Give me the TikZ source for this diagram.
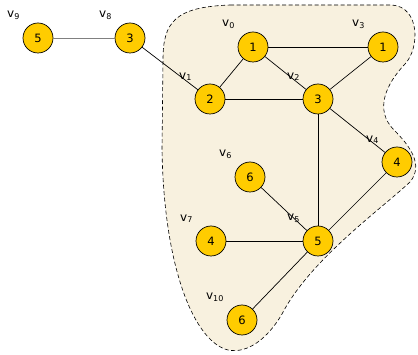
\documentclass[tikz,border=0pt]{standalone}
\usepackage{fontspec}
\setmainfont{DejaVu Sans}
\usepackage{tikz}
\usetikzlibrary{positioning}
\definecolor{vertexfill}{HTML}{FFCC00}
\definecolor{regionfill}{HTML}{F8F1DF}

\begin{document}
\begin{tikzpicture}[x=1pt, y=-1pt,
    vertex/.style = {circle, draw, fill=vertexfill, line width=0.7pt, minimum size=30pt, inner sep=0pt, font=\fontsize{11.5}{13}\selectfont},
    vlabel/.style = {font=\fontsize{12}{14}\selectfont, inner sep=0pt, label distance=10pt},
    edge/.style = {line width=0.7pt}]
          \useasboundingbox (0,0) rectangle (418,355);
          % region
          \draw[dash pattern=on 4pt off 2.5pt, fill=regionfill, line width=0.6pt]
            (230,5) -- (392,5) .. controls (420,7) and (420,48) .. (405,64)
            .. controls (386,84) and (374,110) .. (394,130)
            .. controls (410,146) and (424,165) .. (410,182)
            .. controls (380,210) and (310,260) .. (282,314)
            .. controls (268,338) and (248,354) .. (228,350)
            .. controls (195,342) and (164,270) .. (162,150)
            -- (163,60) .. controls (163,22) and (175,7) .. (230,5);

          % nodes
          \node[vertex, label={[vlabel]135:v\textsubscript{9}}] (v9) at (38,38) {5};
          \node[vertex, label={[vlabel]135:v\textsubscript{8}}] (v8) at (130,38) {3};
          \node[vertex, label={[vlabel]135:v\textsubscript{1}}] (v1) at (210,99) {2};
          \node[vertex, label={[vlabel]135:v\textsubscript{0}}] (v0) at (253,47) {1};
          \node[vertex, label={[vlabel]135:v\textsubscript{3}}] (v3) at (383,47) {1};
          \node[vertex, label={[vlabel]135:v\textsubscript{2}}] (v2) at (318,99) {3};
          \node[vertex, label={[vlabel]135:v\textsubscript{4}}] (v4) at (397,162) {4};
          \node[vertex, label={[vlabel]135:v\textsubscript{6}}] (v6) at (250,177) {6};
          \node[vertex, label={[vlabel]135:v\textsubscript{5}}] (v5) at (318,241) {5};
          \node[vertex, label={[vlabel]135:v\textsubscript{7}}] (v7) at (211,241) {4};
          \node[vertex, label={[vlabel]135:v\textsubscript{10}}] (v10) at (242,320) {6};

          % connections
          \draw[edge, gray] (v9) -- (v8);
          \draw[edge] (v8) -- (v1);
          \draw[edge] (v1) -- (v0);
          \draw[edge] (v1) -- (v2);
          \draw[edge] (v0) -- (v3);
          \draw[edge] (v0) -- (v2);
          \draw[edge] (v3) -- (v2);
          \draw[edge] (v2) -- (v4);
          \draw[edge] (v2) -- (v5);
          \draw[edge] (v4) -- (v5);
          \draw[edge] (v6) -- (v5);
          \draw[edge] (v7) -- (v5);
          \draw[edge] (v5) -- (v10);
\end{tikzpicture}
\end{document}
